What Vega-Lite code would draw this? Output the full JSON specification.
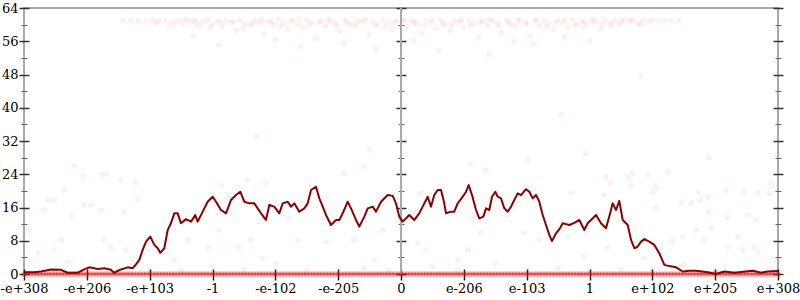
{
  "$schema": "https://vega.github.io/schema/vega-lite/v6.json",
  "width": 754,
  "height": 266,
  "autosize": {"type": "none"},
  "padding": {"left": 24, "top": 8, "right": 22, "bottom": 26},
  "background": "white",
  "config": {
    "view": {"stroke": "#aaaaaa", "strokeWidth": 2},
    "axis": {"domain": false, "grid": false, "labelFont": "DejaVu Serif", "labelFontSize": 13, "labelColor": "#000000", "title": null}
  },
  "datasets": {
    "pts": [
      {"x":-6.0,"e":0},{"x":-5.9,"e":0},{"x":-5.8,"e":0},{"x":-5.7,"e":0},{"x":-5.6,"e":0},{"x":-5.5,"e":0},{"x":-5.4,"e":0},{"x":-5.3,"e":0},{"x":-5.2,"e":0},{"x":-5.1,"e":0},
      {"x":-5.0,"e":0},{"x":-4.9,"e":0},{"x":-4.8,"e":0},{"x":-4.7,"e":0},{"x":-4.6,"e":0},{"x":-4.5,"e":0},{"x":-4.4,"e":0},{"x":-4.3,"e":0},{"x":-4.2,"e":0},{"x":-4.1,"e":0},
      {"x":-4.0,"e":0},{"x":-3.9,"e":0},{"x":-3.8,"e":0},{"x":-3.7,"e":0},{"x":-3.6,"e":0},{"x":-3.5,"e":0},{"x":-3.4,"e":0},{"x":-3.3,"e":0},{"x":-3.2,"e":0},{"x":-3.1,"e":0},
      {"x":-3.0,"e":0},{"x":-2.9,"e":0},{"x":-2.8,"e":0},{"x":-2.7,"e":0},{"x":-2.6,"e":0},{"x":-2.5,"e":0},{"x":-2.4,"e":0},{"x":-2.3,"e":0},{"x":-2.2,"e":0},{"x":-2.1,"e":0},
      {"x":-2.0,"e":0},{"x":-1.9,"e":0},{"x":-1.8,"e":0},{"x":-1.7,"e":0},{"x":-1.6,"e":0},{"x":-1.5,"e":0},{"x":-1.4,"e":0},{"x":-1.3,"e":0},{"x":-1.2,"e":0},{"x":-1.1,"e":0},
      {"x":-1.0,"e":0},{"x":-0.9,"e":0},{"x":-0.8,"e":0},{"x":-0.7,"e":0},{"x":-0.6,"e":0},{"x":-0.5,"e":0},{"x":-0.4,"e":0},{"x":-0.3,"e":0},{"x":-0.2,"e":0},{"x":-0.1,"e":0},
      {"x":0.0,"e":0},{"x":0.1,"e":0},{"x":0.2,"e":0},{"x":0.3,"e":0},{"x":0.4,"e":0},{"x":0.5,"e":0},{"x":0.6,"e":0},{"x":0.7,"e":0},{"x":0.8,"e":0},{"x":0.9,"e":0},
      {"x":1.0,"e":0},{"x":1.1,"e":0},{"x":1.2,"e":0},{"x":1.3,"e":0},{"x":1.4,"e":0},{"x":1.5,"e":0},{"x":1.6,"e":0},{"x":1.7,"e":0},{"x":1.8,"e":0},{"x":1.9,"e":0},
      {"x":2.0,"e":0},{"x":2.1,"e":0},{"x":2.2,"e":0},{"x":2.3,"e":0},{"x":2.4,"e":0},{"x":2.5,"e":0},{"x":2.6,"e":0},{"x":2.7,"e":0},{"x":2.8,"e":0},{"x":2.9,"e":0},
      {"x":3.0,"e":0},{"x":3.1,"e":0},{"x":3.2,"e":0},{"x":3.3,"e":0},{"x":3.4,"e":0},{"x":3.5,"e":0},{"x":3.6,"e":0},{"x":3.7,"e":0},{"x":3.8,"e":0},{"x":3.9,"e":0},
      {"x":4.0,"e":0},{"x":4.1,"e":0},{"x":4.2,"e":0},{"x":4.3,"e":0},{"x":4.4,"e":0},{"x":4.5,"e":0},{"x":4.6,"e":0},{"x":4.7,"e":0},{"x":4.8,"e":0},{"x":4.9,"e":0},
      {"x":5.0,"e":0},{"x":5.1,"e":0},{"x":5.2,"e":0},{"x":5.3,"e":0},{"x":5.4,"e":0},{"x":5.5,"e":0},{"x":5.6,"e":0},{"x":5.7,"e":0},{"x":5.8,"e":0},{"x":5.9,"e":0},{"x":6.0,"e":0},
      {"x":-5.95,"e":0},{"x":-5.85,"e":0},{"x":-5.75,"e":0},{"x":-5.65,"e":0},{"x":-5.55,"e":0},{"x":-5.45,"e":0},{"x":-5.35,"e":0},{"x":-5.25,"e":0},{"x":-5.15,"e":0},{"x":-5.05,"e":0},
      {"x":-4.95,"e":0},{"x":-4.85,"e":0},{"x":-4.75,"e":0},{"x":-4.65,"e":0},{"x":-4.55,"e":0},{"x":-4.45,"e":0},{"x":-4.35,"e":0},{"x":-4.25,"e":0},{"x":-4.15,"e":0},{"x":-4.05,"e":0},
      {"x":-3.95,"e":0},{"x":-3.85,"e":0},{"x":-3.75,"e":0},{"x":-3.65,"e":0},{"x":-3.55,"e":0},{"x":-3.45,"e":0},{"x":-3.35,"e":0},{"x":-3.25,"e":0},{"x":-3.15,"e":0},{"x":-3.05,"e":0},
      {"x":-2.95,"e":0},{"x":-2.85,"e":0},{"x":-2.75,"e":0},{"x":-2.65,"e":0},{"x":-2.55,"e":0},{"x":-2.45,"e":0},{"x":-2.35,"e":0},{"x":-2.25,"e":0},{"x":-2.15,"e":0},{"x":-2.05,"e":0},
      {"x":-1.95,"e":0},{"x":-1.85,"e":0},{"x":-1.75,"e":0},{"x":-1.65,"e":0},{"x":-1.55,"e":0},{"x":-1.45,"e":0},{"x":-1.35,"e":0},{"x":-1.25,"e":0},{"x":-1.15,"e":0},{"x":-1.05,"e":0},
      {"x":-0.95,"e":0},{"x":-0.85,"e":0},{"x":-0.75,"e":0},{"x":-0.65,"e":0},{"x":-0.55,"e":0},{"x":-0.45,"e":0},{"x":-0.35,"e":0},{"x":-0.25,"e":0},{"x":-0.15,"e":0},{"x":-0.05,"e":0},
      {"x":0.05,"e":0},{"x":0.15,"e":0},{"x":0.25,"e":0},{"x":0.35,"e":0},{"x":0.45,"e":0},{"x":0.55,"e":0},{"x":0.65,"e":0},{"x":0.75,"e":0},{"x":0.85,"e":0},{"x":0.95,"e":0},
      {"x":1.05,"e":0},{"x":1.15,"e":0},{"x":1.25,"e":0},{"x":1.35,"e":0},{"x":1.45,"e":0},{"x":1.55,"e":0},{"x":1.65,"e":0},{"x":1.75,"e":0},{"x":1.85,"e":0},{"x":1.95,"e":0},
      {"x":2.05,"e":0},{"x":2.15,"e":0},{"x":2.25,"e":0},{"x":2.35,"e":0},{"x":2.45,"e":0},{"x":2.55,"e":0},{"x":2.65,"e":0},{"x":2.75,"e":0},{"x":2.85,"e":0},{"x":2.95,"e":0},
      {"x":3.05,"e":0},{"x":3.15,"e":0},{"x":3.25,"e":0},{"x":3.35,"e":0},{"x":3.45,"e":0},{"x":3.55,"e":0},{"x":3.65,"e":0},{"x":3.75,"e":0},{"x":3.85,"e":0},{"x":3.95,"e":0},
      {"x":4.05,"e":0},{"x":4.15,"e":0},{"x":4.25,"e":0},{"x":4.35,"e":0},{"x":4.45,"e":0},{"x":4.55,"e":0},{"x":4.65,"e":0},{"x":4.75,"e":0},{"x":4.85,"e":0},{"x":4.95,"e":0},
      {"x":5.05,"e":0},{"x":5.15,"e":0},{"x":5.25,"e":0},{"x":5.35,"e":0},{"x":5.45,"e":0},{"x":5.55,"e":0},{"x":5.65,"e":0},{"x":5.75,"e":0},{"x":5.85,"e":0},{"x":5.95,"e":0},
      {"x":-4.42,"e":61.0},{"x":-4.3,"e":61.1},{"x":-4.18,"e":60.9},{"x":-4.05,"e":61.0},{"x":-3.95,"e":61.2},{"x":-3.85,"e":60.8},{"x":-3.74,"e":61.0},{"x":-3.62,"e":60.6},{"x":-3.55,"e":61.1},{"x":-3.47,"e":60.3},
      {"x":-3.38,"e":60.9},{"x":-3.3,"e":61.1},{"x":-3.22,"e":59.8},{"x":-3.15,"e":60.7},{"x":-3.08,"e":61.2},{"x":-3.0,"e":60.1},{"x":-2.92,"e":60.9},{"x":-2.85,"e":59.4},{"x":-2.78,"e":61.0},{"x":-2.7,"e":60.5},
      {"x":-2.62,"e":58.6},{"x":-2.55,"e":61.1},{"x":-2.48,"e":60.2},{"x":-2.4,"e":59.7},{"x":-2.33,"e":61.0},{"x":-2.25,"e":60.6},{"x":-2.18,"e":57.8},{"x":-2.1,"e":60.9},{"x":-2.03,"e":59.9},{"x":-1.95,"e":61.2},
      {"x":-1.88,"e":60.4},{"x":-1.8,"e":58.9},{"x":-1.72,"e":61.0},{"x":-1.65,"e":60.0},{"x":-1.57,"e":59.3},{"x":-1.5,"e":61.1},{"x":-1.42,"e":60.6},{"x":-1.35,"e":56.8},{"x":-1.27,"e":60.9},{"x":-1.2,"e":59.7},
      {"x":-1.12,"e":61.0},{"x":-1.05,"e":60.3},{"x":-0.97,"e":58.4},{"x":-0.9,"e":61.1},{"x":-0.82,"e":60.1},{"x":-0.75,"e":59.5},{"x":-0.67,"e":61.0},{"x":-0.6,"e":60.7},{"x":-0.52,"e":57.5},{"x":-0.45,"e":60.9},
      {"x":-0.37,"e":59.8},{"x":-0.3,"e":61.2},{"x":-0.22,"e":60.4},{"x":-0.15,"e":58.9},{"x":-0.07,"e":61.0},{"x":0.03,"e":60.8},{"x":0.1,"e":59.6},{"x":0.18,"e":61.1},{"x":0.25,"e":60.2},{"x":0.33,"e":57.9},
      {"x":0.4,"e":61.0},{"x":0.48,"e":60.5},{"x":0.55,"e":59.1},{"x":0.63,"e":61.2},{"x":0.7,"e":60.0},{"x":0.78,"e":58.6},{"x":0.85,"e":61.0},{"x":0.93,"e":60.6},{"x":1.0,"e":59.4},{"x":1.08,"e":61.1},
      {"x":1.15,"e":60.3},{"x":1.23,"e":56.9},{"x":1.3,"e":60.9},{"x":1.38,"e":59.9},{"x":1.45,"e":61.0},{"x":1.53,"e":60.4},{"x":1.6,"e":58.2},{"x":1.68,"e":61.1},{"x":1.75,"e":60.1},{"x":1.83,"e":59.6},
      {"x":1.9,"e":61.0},{"x":1.98,"e":60.7},{"x":2.05,"e":57.4},{"x":2.13,"e":60.9},{"x":2.2,"e":59.8},{"x":2.28,"e":61.1},{"x":2.35,"e":60.3},{"x":2.43,"e":58.8},{"x":2.5,"e":61.0},{"x":2.58,"e":60.5},
      {"x":2.65,"e":59.3},{"x":2.73,"e":61.1},{"x":2.8,"e":60.2},{"x":2.88,"e":60.9},{"x":2.95,"e":59.9},{"x":3.03,"e":61.0},{"x":3.1,"e":60.6},{"x":3.18,"e":58.9},{"x":3.25,"e":61.1},{"x":3.33,"e":60.4},
      {"x":3.4,"e":61.0},{"x":3.48,"e":60.0},{"x":3.55,"e":61.1},{"x":3.63,"e":60.7},{"x":3.7,"e":61.0},{"x":3.78,"e":60.3},{"x":3.85,"e":61.1},{"x":3.93,"e":60.8},{"x":4.0,"e":61.0},{"x":4.1,"e":60.9},
      {"x":4.2,"e":61.1},{"x":4.3,"e":61.0},{"x":4.42,"e":61.0},
      {"x":-3.9,"e":60.4},{"x":-3.68,"e":59.9},{"x":-3.43,"e":61.3},{"x":-3.26,"e":60.5},{"x":-3.04,"e":59.2},{"x":-2.88,"e":60.6},{"x":-2.66,"e":60.8},{"x":-2.51,"e":59.0},{"x":-2.37,"e":60.2},{"x":-2.21,"e":61.3},
      {"x":-2.06,"e":60.7},{"x":-1.91,"e":59.6},{"x":-1.76,"e":60.8},{"x":-1.61,"e":61.3},{"x":-1.46,"e":59.9},{"x":-1.31,"e":60.5},{"x":-1.16,"e":61.3},{"x":-1.01,"e":59.7},{"x":-0.86,"e":60.6},{"x":-0.71,"e":60.2},
      {"x":-0.56,"e":61.3},{"x":-0.41,"e":60.1},{"x":-0.26,"e":59.4},{"x":-0.11,"e":60.6},{"x":0.06,"e":61.3},{"x":0.21,"e":60.6},{"x":0.36,"e":59.8},{"x":0.51,"e":61.3},{"x":0.66,"e":60.4},{"x":0.81,"e":59.9},
      {"x":0.96,"e":61.2},{"x":1.11,"e":59.8},{"x":1.26,"e":60.5},{"x":1.41,"e":61.3},{"x":1.56,"e":59.8},{"x":1.71,"e":60.6},{"x":1.86,"e":61.3},{"x":2.01,"e":60.2},{"x":2.16,"e":61.2},{"x":2.31,"e":59.6},
      {"x":2.46,"e":60.6},{"x":2.61,"e":61.3},{"x":2.76,"e":59.8},{"x":2.91,"e":60.5},{"x":3.06,"e":61.3},{"x":3.21,"e":60.1},{"x":3.36,"e":59.7},{"x":3.51,"e":60.7},{"x":3.66,"e":61.3},{"x":3.81,"e":59.9},
      {"x":-1.6,"e":54.5},{"x":0.6,"e":53.8},{"x":2.1,"e":55.2},{"x":-2.9,"e":55.0},{"x":1.4,"e":52.9},{"x":-0.4,"e":54.0},{"x":3.0,"e":56.0},{"x":-2.0,"e":56.3},{"x":-0.9,"e":55.6},{"x":0.2,"e":56.1},{"x":1.8,"e":55.9},{"x":2.6,"e":57.0},{"x":-3.3,"e":57.2},
      {"x":2.55,"e":38.3},{"x":3.82,"e":47.9},{"x":-0.5,"e":30.0},{"x":1.1,"e":26.5},{"x":-2.3,"e":33.0},{"x":4.9,"e":28.0},{"x":-5.2,"e":26.0},
      {"x":-5.62,"e":17.8},{"x":-5.52,"e":17.8},{"x":-5.36,"e":20.2},{"x":-5.06,"e":23.6},{"x":-4.77,"e":23.8},{"x":-4.69,"e":24.0},{"x":-4.46,"e":22.6},{"x":-4.22,"e":22.0},{"x":-4.19,"e":18.0},{"x":-5.05,"e":16.6},
      {"x":-4.93,"e":16.6},{"x":-4.77,"e":15.4},{"x":-4.41,"e":15.0},{"x":-5.25,"e":14.0},{"x":-5.68,"e":15.4},{"x":-5.78,"e":5.0},{"x":-5.41,"e":8.2},{"x":-4.74,"e":8.2},{"x":-4.62,"e":6.5},{"x":-4.38,"e":5.8},
      {"x":-3.39,"e":8.2},{"x":-3.61,"e":3.4},{"x":-5.30,"e":2.9},{"x":-5.92,"e":10.6},{"x":-5.52,"e":5.8},
      {"x":-2.44,"e":22.6},{"x":-2.15,"e":21.9},{"x":-0.91,"e":24.3},{"x":-0.60,"e":26.0},{"x":-2.86,"e":21.4},{"x":-1.78,"e":13.5},{"x":-1.19,"e":7.7},{"x":-2.39,"e":8.2},{"x":-2.58,"e":6.5},{"x":-2.90,"e":10.6},
      {"x":-2.20,"e":3.8},{"x":-3.07,"e":6.5},{"x":-0.43,"e":3.4},{"x":-0.29,"e":10.6},{"x":-1.64,"e":8.2},{"x":-0.75,"e":8.2},
      {"x":1.35,"e":25.0},{"x":2.02,"e":27.4},{"x":2.94,"e":29.0},{"x":0.27,"e":7.5},{"x":0.40,"e":5.8},{"x":0.91,"e":3.4},{"x":1.07,"e":5.8},{"x":1.16,"e":13.5},{"x":1.27,"e":9.9},{"x":0.32,"e":19.5},
      {"x":1.70,"e":14.2},{"x":1.96,"e":9.9},{"x":2.20,"e":8.2},{"x":2.90,"e":4.1},{"x":2.67,"e":8.9},{"x":2.71,"e":19.5},{"x":3.07,"e":13.0},
      {"x":3.26,"e":23.3},{"x":3.34,"e":22.1},{"x":3.61,"e":23.3},{"x":3.69,"e":24.3},{"x":3.93,"e":23.8},{"x":4.25,"e":24.5},{"x":3.66,"e":21.4},{"x":4.01,"e":19.7},{"x":4.06,"e":16.1},{"x":4.46,"e":17.1},
      {"x":4.62,"e":17.1},{"x":4.77,"e":17.8},{"x":4.89,"e":18.5},{"x":5.17,"e":20.2},{"x":5.46,"e":19.7},{"x":5.68,"e":19.5},{"x":5.89,"e":21.9},{"x":5.86,"e":19.5},{"x":4.73,"e":19.7},{"x":4.90,"e":14.9},
      {"x":5.20,"e":13.5},{"x":5.52,"e":14.2},{"x":5.65,"e":13.0},{"x":4.70,"e":10.6},{"x":4.93,"e":11.1},{"x":5.36,"e":8.9},{"x":5.62,"e":6.5},{"x":5.20,"e":6.5},{"x":4.49,"e":8.9},{"x":4.33,"e":8.2},
      {"x":4.82,"e":8.2},{"x":5.44,"e":5.8},{"x":5.68,"e":5.3},{"x":3.87,"e":3.8},{"x":3.29,"e":6.5},{"x":3.23,"e":19.0},{"x":4.06,"e":21.0},
      {"x":-5.0,"e":1.5},{"x":-3.0,"e":2.0},{"x":-1.0,"e":1.2},{"x":0.5,"e":1.8},{"x":2.5,"e":1.4},{"x":4.5,"e":2.2},{"x":5.5,"e":1.0},{"x":-4.0,"e":1.0},{"x":1.5,"e":2.6},{"x":3.5,"e":1.1},{"x":-2.0,"e":2.4},{"x":-0.2,"e":0.9},
      {"x":-5.5,"e":0.8},{"x":-4.5,"e":1.3},{"x":-3.5,"e":0.7},{"x":-2.5,"e":1.1},{"x":-1.5,"e":0.8},{"x":-0.6,"e":1.4},{"x":0.9,"e":0.8},{"x":2.0,"e":1.0},{"x":3.0,"e":0.8},{"x":4.0,"e":1.2},{"x":5.0,"e":0.9},{"x":5.9,"e":1.3}
    ],
    "avg": [
      {"x":-5.984,"e":0.4},{"x":-5.836,"e":0.4},{"x":-5.730,"e":0.6},{"x":-5.571,"e":1.1},{"x":-5.411,"e":1.0},{"x":-5.305,"e":0.3},{"x":-5.146,"e":0.3},{"x":-5.041,"e":1.1},{"x":-4.961,"e":1.6},{"x":-4.827,"e":1.2},
      {"x":-4.722,"e":1.4},{"x":-4.616,"e":1.0},{"x":-4.568,"e":0.3},{"x":-4.457,"e":1.1},{"x":-4.350,"e":1.6},{"x":-4.270,"e":1.4},{"x":-4.218,"e":2.3},{"x":-4.165,"e":3.4},{"x":-4.111,"e":5.8},{"x":-4.058,"e":7.8},
      {"x":-3.990,"e":9.0},{"x":-3.926,"e":7.0},{"x":-3.872,"e":6.2},{"x":-3.831,"e":5.1},{"x":-3.767,"e":6.2},{"x":-3.713,"e":10.6},{"x":-3.661,"e":12.2},{"x":-3.608,"e":14.6},{"x":-3.554,"e":14.6},{"x":-3.502,"e":12.2},
      {"x":-3.422,"e":13.2},{"x":-3.342,"e":12.6},{"x":-3.274,"e":14.2},{"x":-3.236,"e":12.6},{"x":-3.156,"e":15.0},{"x":-3.077,"e":17.4},{"x":-2.997,"e":18.6},{"x":-2.944,"e":17.4},{"x":-2.865,"e":15.4},{"x":-2.785,"e":14.6},
      {"x":-2.706,"e":17.8},{"x":-2.626,"e":19.0},{"x":-2.558,"e":19.8},{"x":-2.494,"e":17.4},{"x":-2.414,"e":17.0},{"x":-2.335,"e":17.0},{"x":-2.281,"e":15.8},{"x":-2.228,"e":14.6},{"x":-2.149,"e":13.0},{"x":-2.096,"e":16.6},
      {"x":-2.017,"e":16.2},{"x":-1.937,"e":14.6},{"x":-1.883,"e":17.0},{"x":-1.803,"e":17.4},{"x":-1.751,"e":16.2},{"x":-1.698,"e":17.0},{"x":-1.619,"e":15.0},{"x":-1.539,"e":15.8},{"x":-1.485,"e":17.0},{"x":-1.432,"e":20.2},
      {"x":-1.353,"e":21.0},{"x":-1.300,"e":18.2},{"x":-1.246,"e":16.2},{"x":-1.194,"e":14.2},{"x":-1.114,"e":11.8},{"x":-1.035,"e":13.0},{"x":-0.982,"e":13.0},{"x":-0.928,"e":14.6},{"x":-0.848,"e":17.4},{"x":-0.796,"e":15.8},
      {"x":-0.716,"e":13.0},{"x":-0.664,"e":11.4},{"x":-0.584,"e":13.8},{"x":-0.530,"e":15.8},{"x":-0.450,"e":16.2},{"x":-0.398,"e":15.0},{"x":-0.318,"e":17.4},{"x":-0.212,"e":19.0},{"x":-0.132,"e":18.8},{"x":-0.080,"e":17.0},
      {"x":-0.027,"e":13.8},{"x":0.027,"e":12.6},{"x":0.080,"e":13.4},{"x":0.132,"e":14.2},{"x":0.212,"e":13.0},{"x":0.291,"e":14.6},{"x":0.345,"e":16.2},{"x":0.425,"e":18.6},{"x":0.477,"e":16.2},{"x":0.530,"e":19.0},
      {"x":0.584,"e":20.2},{"x":0.637,"e":20.2},{"x":0.689,"e":17.0},{"x":0.716,"e":14.6},{"x":0.796,"e":15.0},{"x":0.848,"e":15.0},{"x":0.902,"e":17.0},{"x":0.982,"e":18.6},{"x":1.035,"e":19.8},{"x":1.077,"e":21.4},
      {"x":1.130,"e":19.0},{"x":1.194,"e":15.4},{"x":1.246,"e":13.4},{"x":1.310,"e":13.8},{"x":1.353,"e":15.8},{"x":1.405,"e":15.4},{"x":1.448,"e":18.6},{"x":1.501,"e":19.8},{"x":1.539,"e":18.6},{"x":1.592,"e":18.2},
      {"x":1.644,"e":15.8},{"x":1.698,"e":15.0},{"x":1.751,"e":16.2},{"x":1.803,"e":17.8},{"x":1.857,"e":19.4},{"x":1.910,"e":19.0},{"x":1.989,"e":20.4},{"x":2.042,"e":19.8},{"x":2.096,"e":18.2},{"x":2.149,"e":19.0},
      {"x":2.201,"e":17.4},{"x":2.255,"e":14.2},{"x":2.308,"e":11.8},{"x":2.360,"e":9.4},{"x":2.403,"e":7.9},{"x":2.467,"e":9.8},{"x":2.530,"e":11.0},{"x":2.574,"e":12.2},{"x":2.626,"e":12.0},{"x":2.679,"e":11.8},
      {"x":2.758,"e":12.3},{"x":2.838,"e":13.0},{"x":2.918,"e":10.6},{"x":2.971,"e":12.2},{"x":3.104,"e":14.2},{"x":3.183,"e":12.2},{"x":3.263,"e":11.0},{"x":3.342,"e":15.4},{"x":3.369,"e":17.0},{"x":3.422,"e":15.4},
      {"x":3.474,"e":17.6},{"x":3.529,"e":13.0},{"x":3.608,"e":11.8},{"x":3.661,"e":8.2},{"x":3.714,"e":6.2},{"x":3.767,"e":6.6},{"x":3.820,"e":7.8},{"x":3.872,"e":8.4},{"x":3.952,"e":7.8},{"x":4.032,"e":7.0},
      {"x":4.111,"e":5.0},{"x":4.191,"e":2.2},{"x":4.270,"e":1.9},{"x":4.377,"e":1.6},{"x":4.483,"e":0.6},{"x":4.589,"e":0.8},{"x":4.695,"e":0.8},{"x":4.881,"e":0.4},{"x":5.014,"e":0.0},{"x":5.146,"e":0.6},
      {"x":5.305,"e":0.3},{"x":5.411,"e":0.5},{"x":5.598,"e":0.8},{"x":5.730,"e":0.3},{"x":5.836,"e":0.6},{"x":6.0,"e":0.7}
    ]
  },
  "resolve": {"axis": {"x": "independent", "y": "independent"}},
  "layer": [
    {
      "data": {"values": [{}]},
      "mark": {"type": "rule", "color": "#aaaaaa", "strokeWidth": 2},
      "encoding": {"x": {"datum": 0, "type": "quantitative", "scale": {"domain": [-6, 6], "nice": false}, "axis": null}}
    },
    {
      "data": {"name": "pts"},
      "mark": {"type": "circle", "color": "#ff0000", "size": 32},
      "encoding": {
        "x": {"field": "x", "type": "quantitative", "scale": {"domain": [-6, 6], "nice": false},
          "axis": {"orient": "bottom", "offset": -5, "values": [-6,-5,-4,-3,-2,-1,0,1,2,3,4,5,6], "tickSize": 11, "tickColor": "#222222", "tickWidth": 1.5, "labelPadding": 2, "labelOverlap": false, "labelFlush": false,
            "labelExpr": "['-e+308','-e+206','-e+103','-1','-e-102','-e-205','0','e-206','e-103','1','e+102','e+205','e+308'][datum.value + 6]"}},
        "y": {"field": "e", "type": "quantitative", "scale": {"domain": [0, 64], "nice": false},
          "axis": {"orient": "left", "offset": -5, "values": [0,8,16,24,32,40,48,56,64], "tickSize": 10, "tickColor": "#333333", "tickWidth": 1.5, "labelPadding": 1, "labelOverlap": false, "labelFlush": false}},
        "opacity": {"condition": {"test": "datum.e == 0", "value": 0.3}, "value": 0.06}
      }
    },
    {
      "data": {"name": "avg"},
      "mark": {"type": "line", "color": "#8b0000", "strokeWidth": 2, "strokeJoin": "round"},
      "encoding": {
        "x": {"field": "x", "type": "quantitative", "axis": null},
        "y": {"field": "e", "type": "quantitative",
          "axis": {"orient": "right", "offset": -5, "values": [0,8,16,24,32,40,48,56,64], "tickSize": 10, "tickColor": "#333333", "tickWidth": 1.5, "labels": false}}
      }
    },
    {
      "data": {"name": "avg"},
      "mark": {"type": "point", "opacity": 0},
      "encoding": {
        "x": {"field": "x", "type": "quantitative", "axis": null},
        "y": {"field": "e", "type": "quantitative",
          "axis": {"orient": "left", "offset": -3, "values": [4,12,20,28,36,44,52,60], "tickSize": 6, "tickColor": "#666666", "tickWidth": 1, "labels": false}}
      }
    },
    {
      "data": {"name": "avg"},
      "mark": {"type": "point", "opacity": 0},
      "encoding": {
        "x": {"field": "x", "type": "quantitative", "axis": null},
        "y": {"field": "e", "type": "quantitative",
          "axis": {"orient": "right", "offset": -3, "values": [4,12,20,28,36,44,52,60], "tickSize": 6, "tickColor": "#666666", "tickWidth": 1, "labels": false}}
      }
    },
    {
      "data": {"name": "avg"},
      "mark": {"type": "point", "opacity": 0},
      "encoding": {
        "x": {"field": "x", "type": "quantitative", "axis": null},
        "y": {"field": "e", "type": "quantitative",
          "axis": {"orient": "right", "offset": -382, "values": [0,8,16,24,32,40,48,56,64], "tickSize": 10, "tickColor": "#333333", "tickWidth": 1.5, "labels": false}}
      }
    },
    {
      "data": {"name": "avg"},
      "mark": {"type": "point", "opacity": 0},
      "encoding": {
        "x": {"field": "x", "type": "quantitative", "axis": null},
        "y": {"field": "e", "type": "quantitative",
          "axis": {"orient": "right", "offset": -380, "values": [4,12,20,28,36,44,52,60], "tickSize": 6, "tickColor": "#666666", "tickWidth": 1, "labels": false}}
      }
    }
  ]
}
